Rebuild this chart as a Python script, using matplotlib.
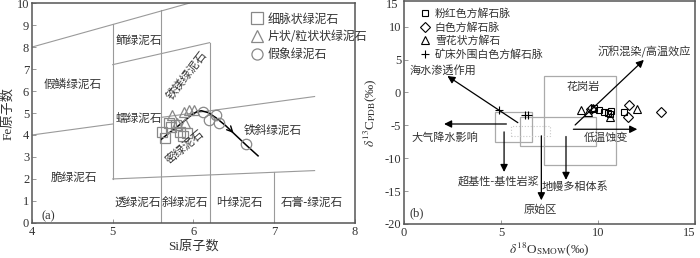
"""
绿泥石分类图 (a) 与 C-O 同位素图 (b)
"""
import matplotlib
matplotlib.use('Agg')
import matplotlib.pyplot as plt
from matplotlib.lines import Line2D
from matplotlib.patches import Rectangle
import matplotlib.transforms as mtrans

plt.rcParams['font.family'] = ['Liberation Serif', 'Noto Sans CJK SC']
plt.rcParams['mathtext.fontset'] = 'stix'
plt.rcParams['axes.unicode_minus'] = False

# ---------------- (a) 数据 ----------------
# 分类边界线 (Si, Fe)
bound_lines = [
    [(4.0, 8.0), (5.95, 10.0)],
    [(5.0, 7.2), (6.2, 8.2)],
    [(4.0, 4.0), (5.0, 4.5)],
    [(5.6, 4.8), (7.5, 5.75)],
    [(5.0, 2.0), (7.5, 2.38)],
    [(5.0, 2.0), (5.0, 9.05)],
    [(5.6, 0.0), (5.6, 9.7)],
    [(6.2, 0.0), (6.2, 8.2)],
    [(7.0, 0.0), (7.0, 2.3)],
]
field_names = ['鲕绿泥石', '假鳞绿泥石', '铁镁绿泥石', '蠕绿泥石', '密绿泥石',
               '铁斜绿泥石', '脆绿泥石', '透绿泥石', '斜绿泥石', '叶绿泥石', '石膏-绿泥石']
field_si = [5.32, 4.5, 5.92, 5.33, 5.9, 6.98, 4.52, 5.31, 5.89, 6.57, 7.46]
field_fe = [8.3, 6.3, 6.7, 4.75, 3.45, 4.2, 2.05, 0.93, 0.93, 0.93, 0.93]
field_rot = [0, 0, 52, 0, 40, 0, 0, 0, 0, 0, 0]

vein_si = [5.61, 5.65, 5.72, 5.70, 5.78, 5.83, 5.87, 5.92]
vein_fe = [4.15, 3.85, 4.35, 4.55, 4.45, 4.15, 3.95, 4.1]
flake_si = [5.73, 5.79, 5.88, 5.90, 5.95, 6.01]
flake_fe = [4.9, 4.55, 5.05, 4.55, 5.12, 5.12]
pseudo_si = [6.12, 6.19, 6.28, 6.31, 6.65]
pseudo_fe = [5.05, 4.68, 4.9, 4.55, 3.58]

curve_si = [5.6, 5.7, 5.8, 5.9, 5.98, 6.05, 6.1, 6.18, 6.28, 6.4, 6.52, 6.65, 6.8]
curve_fe = [3.8, 4.1, 4.38, 4.68, 4.92, 5.08, 5.1, 5.02, 4.78, 4.42, 4.0, 3.55, 3.05]

# ---------------- (b) 数据 ----------------
pink_o = [9.8, 10.05, 10.3, 10.5, 10.65, 10.62, 11.35]
pink_c = [-2.4, -2.7, -3.0, -3.2, -2.8, -3.3, -3.0]
white_o = [9.65, 11.6, 11.55, 13.25]
white_c = [-2.5, -1.9, -3.8, -3.0]
snow_o = [9.1, 9.5, 9.75, 10.6, 12.0]
snow_c = [-2.6, -3.0, -2.4, -3.7, -2.5]
outer_o = [4.9, 6.25, 6.4]
outer_c = [-2.6, -3.4, -3.4]

# 端元区域 (x0, y0, x1, y1)
boxes = [(4.7, -7.5, 6.6, -3.0), (6.0, -8.1, 9.9, -3.8), (7.2, -11.0, 10.9, 2.5)]
dotted_box = (5.5, -6.7, 7.5, -5.1)

# 演化趋势箭头 (起点, 终点)
trend_arrows = [
    ((5.87, -4.6), (2.24, 2.5)),
    ((5.28, -4.8), (2.07, -4.8)),
    ((5.16, -6.0), (5.16, -12.1)),
    ((7.08, -6.6), (7.08, -16.4)),
    ((8.35, -6.7), (8.35, -13.3)),
    ((8.73, -5.6), (12.02, -5.6)),
    ((8.82, -4.95), (12.36, 4.95)),
]
trend_names = ['海水渗透作用', '沉积混染/高温效应', '花岗岩', '大气降水影响', '低温蚀变',
               '超基性-基性岩浆', '地幔多相体系', '原始区']
trend_o = [1.99, 12.36, 9.24, 2.11, 10.42, 4.86, 8.82, 7.05]
trend_c = [3.4, 6.2, 0.8, -6.8, -6.8, -13.6, -14.3, -17.8]

TXT = '#333333'
GRAY = '#9a9a9a'

fig = plt.figure(figsize=(7.0, 2.58), dpi=100)
fig.patch.set_facecolor('white')

# ===================== (a) =====================
ax1 = fig.add_axes([0.0457, 0.136, 0.4614, 0.852])
ax1.set_xlim(4, 8)
ax1.set_ylim(0, 10)
for seg in bound_lines:
    ax1.plot([seg[0][0], seg[1][0]], [seg[0][1], seg[1][1]], color=GRAY, lw=0.8)
for name, x, y, r in zip(field_names, field_si, field_fe, field_rot):
    ax1.text(x, y, name, ha='center', va='center', rotation=r, fontsize=8.4,
             color=TXT, family='Noto Sans CJK SC')

ax1.plot(curve_si, curve_fe, color='k', lw=1.1)
ax1.annotate('', xy=(curve_si[10], curve_fe[10]), xytext=(curve_si[9] + 0.05, curve_fe[9] - 0.15),
             arrowprops=dict(arrowstyle='->', color='k', lw=1.0, mutation_scale=10))

mk = dict(ls='none', mfc='none', mec='#888888', mew=0.9)
ax1.plot(vein_si, vein_fe, marker='s', ms=7, **mk)
ax1.plot(flake_si, flake_fe, marker='^', ms=7.5, **mk)
ax1.plot(pseudo_si, pseudo_fe, marker='o', ms=7.5, **mk)

h1 = [Line2D([], [], marker='s', ms=8, **mk),
      Line2D([], [], marker='^', ms=8, **mk),
      Line2D([], [], marker='o', ms=8, **mk)]
ax1.legend(h1, ['细脉状绿泥石', '片状/粒状状绿泥石', '假象绿泥石'], loc='upper left',
           bbox_to_anchor=(0.65, 1.0), frameon=False, handlelength=1.0,
           handletextpad=0.35, labelspacing=0.4, borderpad=0.3,
           prop={'family': 'Noto Sans CJK SC', 'size': 8.6}, labelcolor=TXT)

ax1.text(4.12, 0.3, '(a)', fontsize=9, color=TXT, va='center')
ax1.set_xticks([4, 5, 6, 7, 8])
ax1.set_yticks(range(0, 11))
ax1.set_xlabel('Si原子数', fontsize=9.5, color=TXT)
ax1.set_ylabel('Fe原子数', fontsize=9.5, color=TXT)
ax1.xaxis.set_label_coords(0.5, -0.08)
ax1.yaxis.set_label_coords(-0.055, 0.5)

# ===================== (b) =====================
ax2 = fig.add_axes([0.577, 0.132, 0.416, 0.864])
ax2.set_xlim(0, 15)
ax2.set_ylim(-20, 13.9)
for x0, y0, x1, y1 in boxes:
    ax2.add_patch(Rectangle((x0, y0), x1 - x0, y1 - y0, fill=False, ec='#aaaaaa', lw=0.9))
x0, y0, x1, y1 = dotted_box
ax2.add_patch(Rectangle((x0, y0), x1 - x0, y1 - y0, fill=False, ec='#c8c8c8', lw=0.8, ls=':'))

for (sx, sy), (ex, ey) in trend_arrows:
    ax2.annotate('', xy=(ex, ey), xytext=(sx, sy),
                 arrowprops=dict(arrowstyle='-|>', color='k', lw=0.9, mutation_scale=11,
                                 shrinkA=0, shrinkB=0))
for name, x, y in zip(trend_names, trend_o, trend_c):
    ax2.text(x, y, name, ha='center', va='center', fontsize=8, color=TXT,
             family='Noto Sans CJK SC')

mk2 = dict(ls='none', mfc='none', mec='k', mew=0.8)
ax2.plot(pink_o, pink_c, marker='s', ms=5, **mk2)
ax2.plot(white_o, white_c, marker='D', ms=5, **mk2)
ax2.plot(snow_o, snow_c, marker='^', ms=6, **mk2)
ax2.plot(outer_o, outer_c, marker='+', ms=6, ls='none', color='k', mew=0.8)

h2 = [Line2D([], [], marker='s', ms=5, **mk2),
      Line2D([], [], marker='D', ms=5, **mk2),
      Line2D([], [], marker='^', ms=6, **mk2),
      Line2D([], [], marker='+', ms=6, ls='none', color='k', mew=0.8)]
ax2.legend(h2, ['粉红色方解石脉', '白色方解石脉', '雪花状方解石', '矿床外围白色方解石脉'],
           loc='upper left', bbox_to_anchor=(0.03, 1.0), frameon=False,
           handlelength=1.0, handletextpad=0.4, labelspacing=0.28, borderpad=0.15,
           prop={'family': 'Noto Sans CJK SC', 'size': 7.8}, labelcolor=TXT)

ax2.text(0.3, -18.4, '(b)', fontsize=9, color=TXT, va='center')
ax2.set_xticks([0, 5, 10, 15])
ax2.set_yticks([-20, -15, -10, -5, 0, 5, 10])
# 顶部刻度 15 被压缩在框边
ax2.text(-0.02, 13.3, '15', transform=mtrans.blended_transform_factory(ax2.transAxes, ax2.transData),
         ha='right', va='center', fontsize=9, color=TXT)
ax2.set_xlabel(r'$\delta^{18}$O$_{\mathrm{SMOW}}$(‰)', fontsize=9.5, color=TXT)
ax2.set_ylabel(r'$\delta^{13}$C$_{\mathrm{PDB}}$(‰)', fontsize=9.5, color=TXT)
ax2.xaxis.set_label_coords(0.5, -0.075)
ax2.yaxis.set_label_coords(-0.085, 0.5)

for ax in (ax1, ax2):
    ax.tick_params(direction='in', length=3, width=0.7, color='#999999',
                   labelsize=9, labelcolor=TXT, pad=2)
    for sp in ax.spines.values():
        sp.set_color('#555555')
        sp.set_linewidth(1.1)
ax2.get_xticklabels()[-1].set_horizontalalignment('right')

fig.savefig('out.png', dpi=100)
print('done')
